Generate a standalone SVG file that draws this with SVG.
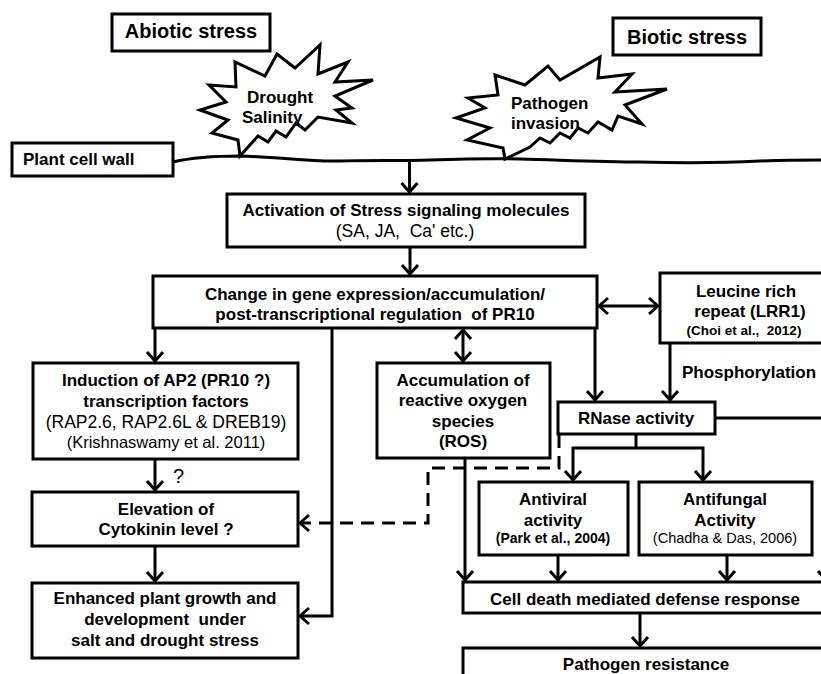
<svg xmlns="http://www.w3.org/2000/svg" width="821" height="674" viewBox="0 0 821 674">
<style>
.box{fill:#fff;stroke:#000;stroke-width:3}
.star{fill:#fff;stroke:#000;stroke-width:3;stroke-linejoin:miter}
.conn{fill:none;stroke:#000;stroke-width:3}
.dash{stroke-dasharray:13 8}
text{font-family:"Liberation Sans",Arial,sans-serif;fill:#000}
.h{font-size:20px;font-weight:bold}
.b{font-size:17px;font-weight:bold}
.r{font-size:17.5px}
.cb{font-size:13.5px;font-weight:bold}
.c{font-size:14.5px}
.m{text-anchor:middle}
</style>
<defs>
<marker id="ah" viewBox="-12 -10 14 20" refX="0" refY="0" markerWidth="14" markerHeight="20" markerUnits="userSpaceOnUse" orient="auto-start-reverse">
<path d="M-9,-8 L0,0 L-9,8" fill="none" stroke="#000" stroke-width="3" stroke-linejoin="round"/>
</marker>
</defs>
<rect width="821" height="674" fill="#fff"/>

<g id="abiotic">
<rect class="box" x="112" y="14" width="158" height="37"/>
<text class="h m" x="191" y="38">Abiotic stress</text>
</g>
<g id="biotic">
<rect class="box" x="613" y="18" width="148" height="37"/>
<text class="h m" x="687" y="44">Biotic stress</text>
</g>

<g id="cellwall">
<rect class="box" x="12" y="143" width="161" height="33"/>
<text class="b" x="23" y="165">Plant cell wall</text>
<path class="conn" d="M173,162 C190,158 210,156 240,156 C280,157 310,162 340,161 C370,160 400,161 430,160 C460,159 490,158 520,159 C560,160 600,162 640,162 C680,163 720,163 760,161 C790,160 810,160 824,160"/>
</g>

<g id="drought">
<polygon class="star" points="240,156 238,140 212,133 228,120 200,110 226,102 209,85 236,87 235,62 265,76 277,54 295,68 320,45 318,74 348,62 335,82 373,80 335,96 352,108 336,110 352,123 318,117 305,130 296,123 286,137 276,131 268,142 258,136"/>
<text class="b" x="247" y="103">Drought</text>
<text class="b" x="242" y="123">Salinity</text>
</g>

<g id="pathogen">
<polygon class="star" points="505,159 503,148 467,140 490,128 456,118 485,108 468,98 498,95 495,75 525,85 548,66 560,80 600,57 598,78 632,74 615,92 667,89 625,105 642,124 618,116 612,130 598,122 588,133 578,128 570,138 560,133 550,143 540,138 530,147"/>
<text class="b" x="511" y="109">Pathogen</text>
<text class="b" x="511" y="129">invasion</text>
</g>

<g id="activation">
<rect class="box" x="227" y="194" width="358" height="53"/>
<text class="b m" x="406" y="216">Activation of Stress signaling molecules</text>
<text class="r m" x="405" y="237" xml:space="preserve">(SA, JA,  Ca' etc.)</text>
</g>

<g id="change">
<rect class="box" x="153" y="276" width="444" height="52"/>
<text class="b m" x="375" y="300">Change in gene expression/accumulation/</text>
<text class="b m" x="375" y="320" xml:space="preserve">post-transcriptional regulation  of PR10</text>
</g>

<g id="lrr">
<rect class="box" x="660" y="273" width="180" height="70"/>
<text class="b m" x="746" y="297">Leucine rich</text>
<text class="b m" x="750" y="317">repeat (LRR1)</text>
<text class="cb m" x="744" y="335" xml:space="preserve">(Choi et al.,  2012)</text>
</g>

<g id="phospho">
<text class="b" x="682" y="378">Phosphorylation</text>
</g>

<g id="ap2">
<rect class="box" x="33" y="363" width="265" height="96"/>
<text class="b m" x="166" y="386">Induction of AP2 (PR10 ?)</text>
<text class="b m" x="166" y="407">transcription factors</text>
<text class="r m" x="166" y="428">(RAP2.6, RAP2.6L &amp; DREB19)</text>
<text class="m" style="font-size:16.5px" x="166" y="448">(Krishnaswamy et al. 2011)</text>
</g>

<g id="ros">
<rect class="box" x="377" y="363" width="173" height="95"/>
<text class="b m" x="463" y="386">Accumulation of</text>
<text class="b m" x="463" y="406">reactive oxygen</text>
<text class="b m" x="463" y="427">species</text>
<text class="b m" x="463" y="447">(ROS)</text>
</g>

<g id="rnase">
<rect class="box" x="558" y="402" width="157" height="32"/>
<text class="b m" x="636" y="424">RNase activity</text>
</g>

<g id="cytokinin">
<rect class="box" x="32" y="492" width="266" height="54"/>
<text class="b m" x="166" y="515">Elevation of</text>
<text class="b m" x="166" y="535">Cytokinin level ?</text>
</g>

<g id="enhanced">
<rect class="box" x="32" y="583" width="266" height="75"/>
<text class="b m" x="165" y="604">Enhanced plant growth and</text>
<text class="b m" x="165" y="625" xml:space="preserve">development  under</text>
<text class="b m" x="165" y="646">salt and drought stress</text>
</g>

<g id="antiviral">
<rect class="box" x="479" y="482" width="149" height="73"/>
<text class="b m" x="553" y="505">Antiviral</text>
<text class="b m" x="553" y="526">activity</text>
<text class="cb m" style="font-size:14px" x="553" y="543">(Park et al., 2004)</text>
</g>

<g id="antifungal">
<rect class="box" x="639" y="482" width="173" height="73"/>
<text class="b m" x="725" y="505">Antifungal</text>
<text class="b m" x="725" y="526">Activity</text>
<text class="c m" x="725" y="543">(Chadha &amp; Das, 2006)</text>
</g>

<g id="celldeath">
<rect class="box" x="463" y="582" width="380" height="31"/>
<text class="b m" x="645" y="605">Cell death mediated defense response</text>
</g>

<g id="resistance">
<rect class="box" x="463" y="648" width="380" height="40"/>
<text class="b m" x="646" y="670">Pathogen resistance</text>
</g>

<g id="question">
<text style="font-size:20px" x="173" y="483">?</text>
</g>

<g id="connectors">
<path class="conn" d="M409.5,162 V192" marker-end="url(#ah)"/>
<path class="conn" d="M410,247 V274" marker-end="url(#ah)"/>
<path class="conn" d="M599,306 H658" marker-start="url(#ah)" marker-end="url(#ah)"/>
<path class="conn" d="M155,328 V361" marker-end="url(#ah)"/>
<path class="conn" d="M463,330 V361" marker-start="url(#ah)" marker-end="url(#ah)"/>
<path class="conn" d="M332,328 V616 H300" marker-end="url(#ah)"/>
<path class="conn" d="M595,328 V400" marker-end="url(#ah)"/>
<path class="conn" d="M670,343 V400" marker-end="url(#ah)"/>
<path class="conn" d="M715,418 H826 V580" marker-end="url(#ah)"/>
<path class="conn" d="M636,434 V448"/>
<path class="conn" d="M573,480 V448 H703 V480" marker-start="url(#ah)" marker-end="url(#ah)"/>
<path class="conn" d="M558,555 V580" marker-end="url(#ah)"/>
<path class="conn" d="M727,555 V580" marker-end="url(#ah)"/>
<path class="conn" d="M465,458 V580" marker-end="url(#ah)"/>
<path class="conn" d="M640,613 V646" marker-end="url(#ah)"/>
<path class="conn" d="M155,459 V490" marker-end="url(#ah)"/>
<path class="conn" d="M155,546 V581" marker-end="url(#ah)"/>
<path class="conn dash" d="M559,435 V468 H428 V523 H300" marker-end="url(#ah)"/>
</g>
</svg>
